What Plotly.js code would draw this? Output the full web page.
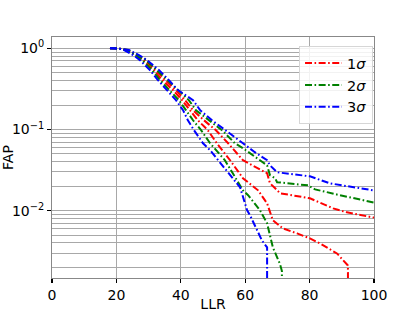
<!DOCTYPE html>
<html>
<head>
<meta charset="utf-8">
<script src="https://cdn.plot.ly/plotly-3.0.1.min.js"></script>
<style>html,body{margin:0;padding:0;background:#fff;}#chart{width:415px;height:312px;}</style>
</head>
<body>
<div id="chart"></div>
<script>
// LLR / FAP curves
var llr_1s_a = [18.0, 21.0, 23.0, 26.1, 28.3, 31.7, 34.2, 37.6, 40.4, 42.9, 45.3, 48.4, 51.2, 55.3, 59.3, 64.0, 66.8, 68.6, 71.7, 76.1, 80.1, 83.2, 88.5, 91.9, 92.1];
var fap_1s_a = [1.0, 0.99, 0.953, 0.827, 0.717, 0.540, 0.406, 0.306, 0.230, 0.173, 0.130, 0.098, 0.0677, 0.0418, 0.0251, 0.0178, 0.0123, 0.00759, 0.00604, 0.00525, 0.00455, 0.00395, 0.00297, 0.00211, 0.00001];
var llr_1s_b = [18.0, 21.0, 23.3, 26.4, 28.9, 32.3, 35.1, 38.5, 41.3, 43.8, 47.2, 50.9, 54.7, 59.3, 66.8, 67.7, 69.3, 70.8, 80.1, 87.3, 91.6, 99.7, 100];
var fap_1s_b = [1.0, 0.99, 0.953, 0.827, 0.717, 0.540, 0.406, 0.306, 0.230, 0.173, 0.130, 0.098, 0.0677, 0.0418, 0.0289, 0.0217, 0.0189, 0.0164, 0.0142, 0.01067, 0.00953, 0.00826, 0.0082];

var llr_2s_a = [18.0, 21.0, 22.7, 25.8, 27.9, 31.1, 33.5, 36.6, 39.4, 41.6, 43.8, 46.3, 49.1, 53.7, 59.3, 60.9, 64.6, 66.8, 68.6, 70.8, 71.4, 71.4];
var fap_2s_a = [1.0, 0.99, 0.953, 0.827, 0.717, 0.540, 0.406, 0.306, 0.230, 0.173, 0.130, 0.098, 0.0677, 0.0418, 0.0178, 0.0155, 0.0101, 0.00697, 0.00352, 0.0022, 0.0018, 0.00001];
var llr_2s_b = [18.0, 21.0, 23.6, 26.7, 29.2, 32.6, 35.7, 39.4, 42.5, 44.7, 48.8, 52.8, 56.8, 59.3, 66.8, 67.7, 69.3, 69.9, 79.5, 81.7, 89.4, 99.7, 100];
var fap_2s_b = [1.0, 0.99, 0.953, 0.827, 0.717, 0.540, 0.406, 0.306, 0.230, 0.173, 0.130, 0.098, 0.0677, 0.0588, 0.0362, 0.0273, 0.0251, 0.0224, 0.0205, 0.0183, 0.0155, 0.01265, 0.0126];

var llr_3s_a = [18.0, 21.0, 22.4, 25.2, 27.3, 30.4, 32.9, 35.7, 38.5, 40.7, 42.2, 44.1, 46.9, 49.1, 53.7, 58.4, 60.6, 61.5, 65.2, 66.8, 66.8];
var fap_3s_a = [1.0, 0.99, 0.953, 0.827, 0.717, 0.540, 0.406, 0.306, 0.230, 0.173, 0.130, 0.098, 0.0677, 0.0555, 0.0333, 0.0194, 0.0101, 0.00875, 0.0043, 0.00352, 0.00001];
var llr_3s_b = [18.0, 21.0, 23.9, 27.0, 29.5, 33.2, 36.3, 39.1, 43.8, 46.0, 49.7, 54.0, 59.3, 63.0, 66.8, 67.7, 69.9, 80.1, 86.3, 99.7, 100];
var fap_3s_b = [1.0, 0.99, 0.953, 0.827, 0.717, 0.540, 0.406, 0.306, 0.230, 0.173, 0.130, 0.098, 0.0677, 0.0525, 0.0418, 0.0362, 0.0297, 0.0265, 0.0217, 0.0178, 0.0178];

var seriesNames = ['1<i>σ</i>', '2<i>σ</i>', '3<i>σ</i>'];
var seriesColors = ['#ff0000', '#008000', '#0000ff'];

var xTicks = [0, 20, 40, 60, 80, 100];
var yTicks = [1, 0.1, 0.01];
var yTickText = ['10<sup>0</sup>', '10<sup>\u22121</sup>', '10<sup>\u22122</sup>'];
var yMinor = [0.002,0.003,0.004,0.005,0.006,0.007,0.008,0.009,
              0.02,0.03,0.04,0.05,0.06,0.07,0.08,0.09,
              0.2,0.3,0.4,0.5,0.6,0.7,0.8,0.9];

var dashStyle = '7px,2.5px,1.6px,2.5px';
var pairs = [[llr_1s_a, fap_1s_a, llr_1s_b, fap_1s_b],
             [llr_2s_a, fap_2s_a, llr_2s_b, fap_2s_b],
             [llr_3s_a, fap_3s_a, llr_3s_b, fap_3s_b]];
var traces = [];
for (var i = 0; i < 3; i++) {
  traces.push({x: pairs[i][0], y: pairs[i][1], mode: 'lines', name: seriesNames[i],
    legendgroup: 'g' + i, showlegend: true,
    line: {color: seriesColors[i], width: 2, dash: dashStyle}});
  traces.push({x: pairs[i][2], y: pairs[i][3], mode: 'lines', name: seriesNames[i],
    legendgroup: 'g' + i, showlegend: false,
    line: {color: seriesColors[i], width: 2, dash: dashStyle}});
}

var gridC = '#a8a8a8';
var layout = {
  width: 415, height: 312,
  margin: {l: 52, r: 41, t: 37, b: 34, pad: 0},
  paper_bgcolor: '#fff', plot_bgcolor: '#fff',
  font: {family: 'DejaVu Sans', size: 14, color: '#000'},
  showlegend: true,
  xaxis: {
    range: [0, 100], tickvals: xTicks, ticktext: xTicks.map(String),
    showgrid: true, gridcolor: gridC, gridwidth: 1,
    showline: true, linecolor: '#888', linewidth: 1, mirror: true,
    ticks: 'outside', ticklen: 4, tickwidth: 1.2, tickcolor: '#000',
    zeroline: false, tickfont: {size: 14},
    title: {text: 'LLR', font: {size: 14}, standoff: 2}
  },
  yaxis: {
    type: 'log', range: [-2.83, 0.14],
    tickvals: yTicks, ticktext: yTickText,
    showgrid: true, gridcolor: gridC, gridwidth: 1,
    minor: {tickvals: yMinor, showgrid: true, gridcolor: gridC, gridwidth: 1, ticks: ''},
    showline: true, linecolor: '#888', linewidth: 1, mirror: true,
    ticks: 'outside', ticklen: 4, tickwidth: 1.2, tickcolor: '#000',
    zeroline: false, tickfont: {size: 14},
    title: {text: 'FAP', font: {size: 14}, standoff: 3}
  },
  legend: {
    x: 0.997, xanchor: 'right', y: 0.962, yanchor: 'top',
    bgcolor: 'rgba(255,255,255,0.85)', bordercolor: '#d6d6d6', borderwidth: 1,
    font: {family: 'DejaVu Sans', size: 14.5},
    itemwidth: 37,
    traceorder: 'grouped', tracegroupgap: 0
  }
};

Plotly.newPlot('chart', traces, layout, {staticPlot: true, displayModeBar: false});
</script>
</body>
</html>
